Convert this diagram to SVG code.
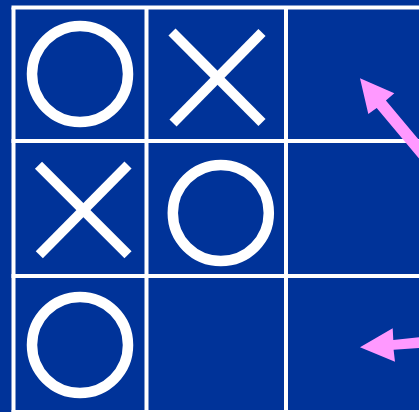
<svg xmlns="http://www.w3.org/2000/svg" width="419" height="412" viewBox="0 0 419 412">
  <style>
    .grid { stroke: #ffffff; stroke-width: 4; fill: none; }
    .o { stroke: #ffffff; stroke-width: 10.5; fill: none; }
    .x { stroke: #ffffff; stroke-width: 10; stroke-linecap: butt; fill: none; }
    .arrow { fill: #ff99ff; stroke: none; }
  </style>
  <rect x="0" y="0" width="419" height="412" fill="#003399"/>
  <g id="board">
    <line class="grid" x1="13.5" y1="7.5" x2="13.5" y2="412"/>
    <line class="grid" x1="146.5" y1="7.5" x2="146.5" y2="412"/>
    <line class="grid" x1="286" y1="7.5" x2="286" y2="412"/>
    <line class="grid" x1="11.5" y1="7.5" x2="419" y2="7.5"/>
    <line class="grid" x1="11.5" y1="141" x2="419" y2="141"/>
    <line class="grid" x1="11.5" y1="276" x2="419" y2="276"/>
    <line class="grid" x1="11.5" y1="412" x2="419" y2="412"/>
  </g>
  <g id="cell-0-0"><circle class="o" cx="80" cy="74" r="48"/></g>
  <g id="cell-0-1">
    <line class="x" x1="172" y1="32" x2="262" y2="122.5"/>
    <line class="x" x1="262" y1="32.5" x2="173" y2="123"/>
  </g>
  <g id="cell-1-0">
    <line class="x" x1="38.5" y1="165.3" x2="128" y2="254.7"/>
    <line class="x" x1="128" y1="165" x2="39.3" y2="254.7"/>
  </g>
  <g id="cell-1-1"><circle class="o" cx="220.8" cy="213" r="48"/></g>
  <g id="cell-2-0"><circle class="o" cx="80" cy="345" r="48"/></g>
  <g id="connectors">
    <polygon class="arrow" points="360,78.3 394.3,93.3 385.9,100.4 440,165 430.8,172.7 376.7,108.1 368.3,114"/>
    <polygon class="arrow" points="360,347.3 392.7,328.3 393.3,340 430,336.2 430.5,347.2 393.6,349.7 395,361.7"/>
  </g>
</svg>
